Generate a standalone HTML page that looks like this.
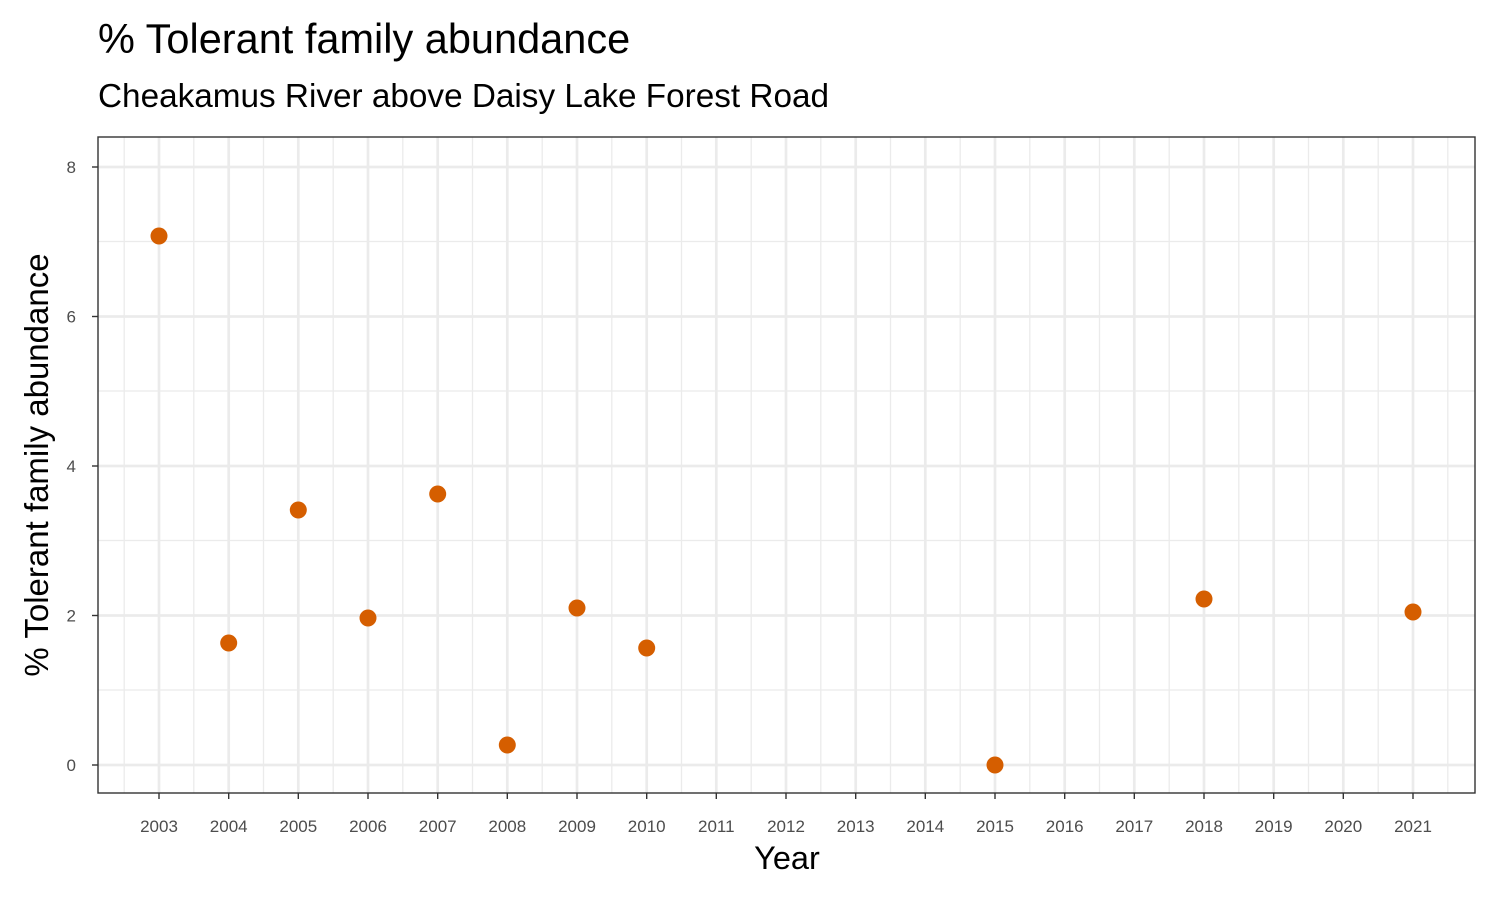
<!DOCTYPE html>
<html><head><meta charset="utf-8"><style>body{margin:0;background:#fff}svg{display:block}text{font-family:"Liberation Sans",Arial,sans-serif}</style></head>
<body>
<svg width="1500" height="900" xmlns="http://www.w3.org/2000/svg">
<rect width="1500" height="900" fill="#fff"/>
<text x="98" y="53" font-size="41.5" fill="#000">% Tolerant family abundance</text>
<text x="98" y="107" font-size="33.3" fill="#000">Cheakamus River above Daisy Lake Forest Road</text>
<g stroke="#ebebeb" stroke-width="1.3">
<line x1="98" x2="1475" y1="690" y2="690"/><line x1="98" x2="1475" y1="540.5" y2="540.5"/><line x1="98" x2="1475" y1="391" y2="391"/><line x1="98" x2="1475" y1="241.5" y2="241.5"/>
<line y1="137" y2="793" x1="124.2" x2="124.2"/><line y1="137" y2="793" x1="193.8" x2="193.8"/><line y1="137" y2="793" x1="263.5" x2="263.5"/><line y1="137" y2="793" x1="333.2" x2="333.2"/><line y1="137" y2="793" x1="402.8" x2="402.8"/><line y1="137" y2="793" x1="472.5" x2="472.5"/><line y1="137" y2="793" x1="542.2" x2="542.2"/><line y1="137" y2="793" x1="611.8" x2="611.8"/><line y1="137" y2="793" x1="681.5" x2="681.5"/><line y1="137" y2="793" x1="751.2" x2="751.2"/><line y1="137" y2="793" x1="820.8" x2="820.8"/><line y1="137" y2="793" x1="890.5" x2="890.5"/><line y1="137" y2="793" x1="960.2" x2="960.2"/><line y1="137" y2="793" x1="1029.8" x2="1029.8"/><line y1="137" y2="793" x1="1099.5" x2="1099.5"/><line y1="137" y2="793" x1="1169.2" x2="1169.2"/><line y1="137" y2="793" x1="1238.8" x2="1238.8"/><line y1="137" y2="793" x1="1308.5" x2="1308.5"/><line y1="137" y2="793" x1="1378.2" x2="1378.2"/><line y1="137" y2="793" x1="1447.8" x2="1447.8"/>
</g>
<g stroke="#ebebeb" stroke-width="2.7">
<line x1="98" x2="1475" y1="765" y2="765"/><line x1="98" x2="1475" y1="615.5" y2="615.5"/><line x1="98" x2="1475" y1="466" y2="466"/><line x1="98" x2="1475" y1="316.5" y2="316.5"/><line x1="98" x2="1475" y1="167" y2="167"/>
<line y1="137" y2="793" x1="159" x2="159"/><line y1="137" y2="793" x1="228.7" x2="228.7"/><line y1="137" y2="793" x1="298.3" x2="298.3"/><line y1="137" y2="793" x1="368" x2="368"/><line y1="137" y2="793" x1="437.7" x2="437.7"/><line y1="137" y2="793" x1="507.3" x2="507.3"/><line y1="137" y2="793" x1="577" x2="577"/><line y1="137" y2="793" x1="646.7" x2="646.7"/><line y1="137" y2="793" x1="716.3" x2="716.3"/><line y1="137" y2="793" x1="786" x2="786"/><line y1="137" y2="793" x1="855.7" x2="855.7"/><line y1="137" y2="793" x1="925.3" x2="925.3"/><line y1="137" y2="793" x1="995" x2="995"/><line y1="137" y2="793" x1="1064.7" x2="1064.7"/><line y1="137" y2="793" x1="1134.3" x2="1134.3"/><line y1="137" y2="793" x1="1204" x2="1204"/><line y1="137" y2="793" x1="1273.7" x2="1273.7"/><line y1="137" y2="793" x1="1343.3" x2="1343.3"/><line y1="137" y2="793" x1="1413" x2="1413"/>
</g>
<rect x="98" y="137" width="1377" height="656" fill="none" stroke="#333" stroke-width="1.4"/>
<g stroke="#333" stroke-width="1.4">
<line x1="92" x2="98" y1="765" y2="765"/><line x1="92" x2="98" y1="615.5" y2="615.5"/><line x1="92" x2="98" y1="466" y2="466"/><line x1="92" x2="98" y1="316.5" y2="316.5"/><line x1="92" x2="98" y1="167" y2="167"/>
</g>
<g font-size="17" fill="#4d4d4d" text-anchor="end">
<text x="76" y="771">0</text><text x="76" y="621.5">2</text><text x="76" y="472">4</text><text x="76" y="322.5">6</text><text x="76" y="173">8</text>
</g>
<g stroke="#333" stroke-width="1.4">
<line y1="793" y2="799" x1="159" x2="159"/><line y1="793" y2="799" x1="228.7" x2="228.7"/><line y1="793" y2="799" x1="298.3" x2="298.3"/><line y1="793" y2="799" x1="368" x2="368"/><line y1="793" y2="799" x1="437.7" x2="437.7"/><line y1="793" y2="799" x1="507.3" x2="507.3"/><line y1="793" y2="799" x1="577" x2="577"/><line y1="793" y2="799" x1="646.7" x2="646.7"/><line y1="793" y2="799" x1="716.3" x2="716.3"/><line y1="793" y2="799" x1="786" x2="786"/><line y1="793" y2="799" x1="855.7" x2="855.7"/><line y1="793" y2="799" x1="925.3" x2="925.3"/><line y1="793" y2="799" x1="995" x2="995"/><line y1="793" y2="799" x1="1064.7" x2="1064.7"/><line y1="793" y2="799" x1="1134.3" x2="1134.3"/><line y1="793" y2="799" x1="1204" x2="1204"/><line y1="793" y2="799" x1="1273.7" x2="1273.7"/><line y1="793" y2="799" x1="1343.3" x2="1343.3"/><line y1="793" y2="799" x1="1413" x2="1413"/>
</g>
<g font-size="17" fill="#4d4d4d" text-anchor="middle">
<text x="159" y="832">2003</text><text x="228.7" y="832">2004</text><text x="298.3" y="832">2005</text><text x="368" y="832">2006</text><text x="437.7" y="832">2007</text><text x="507.3" y="832">2008</text><text x="577" y="832">2009</text><text x="646.7" y="832">2010</text><text x="716.3" y="832">2011</text><text x="786" y="832">2012</text><text x="855.7" y="832">2013</text><text x="925.3" y="832">2014</text><text x="995" y="832">2015</text><text x="1064.7" y="832">2016</text><text x="1134.3" y="832">2017</text><text x="1204" y="832">2018</text><text x="1273.7" y="832">2019</text><text x="1343.3" y="832">2020</text><text x="1413" y="832">2021</text>
</g>
<text x="787" y="869" font-size="32.5" text-anchor="middle" fill="#000">Year</text>
<text transform="translate(48,465) rotate(-90)" font-size="33" text-anchor="middle" fill="#000">% Tolerant family abundance</text>
<g fill="#d55e00">
<circle cx="159" cy="236" r="8.5"/><circle cx="228.7" cy="643" r="8.5"/><circle cx="298.3" cy="510" r="8.5"/><circle cx="368" cy="618" r="8.5"/><circle cx="437.7" cy="494" r="8.5"/><circle cx="507.3" cy="745" r="8.5"/><circle cx="577" cy="608" r="8.5"/><circle cx="646.7" cy="648" r="8.5"/><circle cx="995" cy="765" r="8.5"/><circle cx="1204" cy="599" r="8.5"/><circle cx="1413" cy="612" r="8.5"/>
</g>
</svg>
</body></html>
